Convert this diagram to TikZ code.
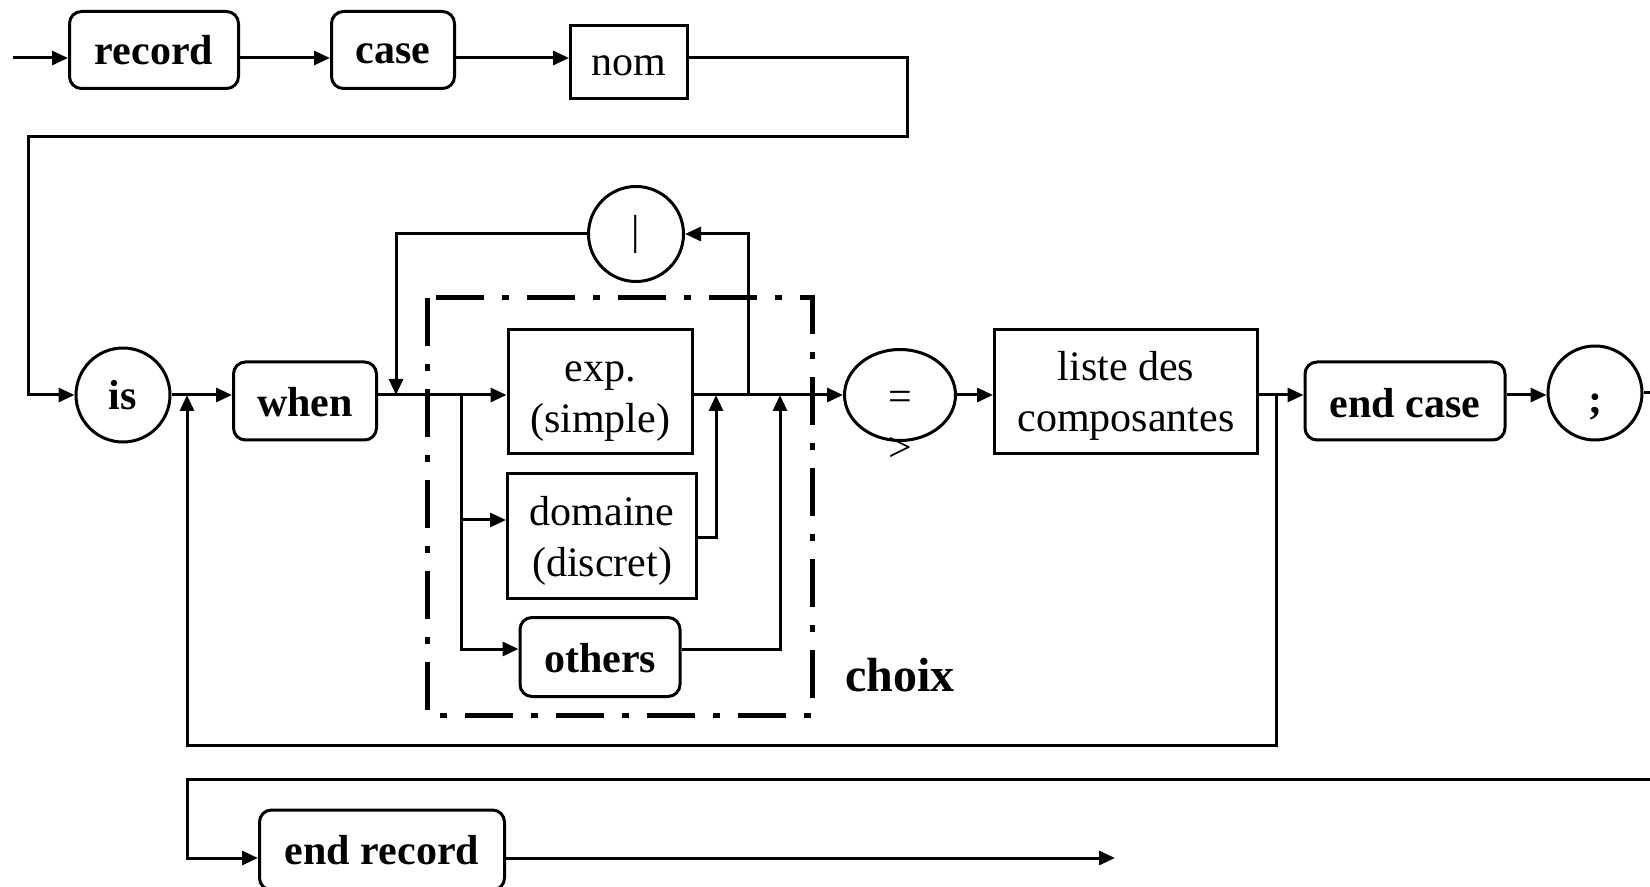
\documentclass[tikz,border=0pt]{standalone}
\usepackage{fontspec}
\setmainfont{Liberation Serif}
\usetikzlibrary{arrows.meta,shapes.geometric}
\newcommand{\lowtext}[2]{\raisebox{-#1}[\height][\depth]{\begin{tabular}{@{}c@{}}#2\end{tabular}}}
\newcommand{\lowone}[2]{\raisebox{-#1}[\height][\depth]{#2}}
\begin{document}
\begin{tikzpicture}[x=0.5pt,y=-0.5pt,
  every node/.style={font=\fontsize{21}{25.5}\selectfont},
  base/.style={draw,line width=1.5pt,inner sep=0pt,align=center},
  rbox/.style={base,rounded corners=6pt,font=\fontsize{21}{25.5}\selectfont\bfseries},
  sbox/.style={base},
  cbox/.style={base,circle},
  conn/.style={line width=1.5pt},
  arr/.style={conn,-{Triangle[length=8pt,width=7pt]}},
  dashdot/.style={line width=2.5pt,dash pattern=on 24pt off 9pt on 3.5pt off 9pt},
]
\useasboundingbox (0,0) rectangle (1650,887);

% nodes
\node[rbox,minimum width=84.5pt,minimum height=38.5pt] (record) at (154,50) {record};
\node[rbox,minimum width=61.5pt,minimum height=38.5pt] (case) at (393,50) {\lowone{2pt}{case}};
\node[sbox,minimum width=58.5pt,minimum height=36.5pt] (nom) at (629,62) {\lowone{2pt}{nom}};
\node[cbox,minimum size=47pt,font=\fontsize{21}{25.5}\selectfont\bfseries] (is) at (123,395) {is};
\node[rbox,minimum width=71.5pt,minimum height=39pt] (when) at (305,401) {\lowone{0.5pt}{when}};
\node[cbox,minimum size=47.5pt] (bar) at (636,234) {|};
\node[sbox,minimum width=92pt,minimum height=62pt] (exp) at (600,392) {\lowtext{2.5pt}{exp.\\(simple)}};
\node[sbox,minimum width=94.5pt,minimum height=62pt] (dom) at (602,536) {\lowtext{2.5pt}{domaine\\(discret)}};
\node[rbox,minimum width=80pt,minimum height=39.5pt] (others) at (600,657) {\lowone{0.5pt}{others}};
\node[base,ellipse,minimum width=55.5pt,minimum height=45.5pt] (eq) at (900,395) {\lowtext{2.5pt}{=}};
\node[inner sep=0pt] (gt) at (900,449) {>};
\node[sbox,minimum width=131.5pt,minimum height=62pt] (liste) at (1126,392) {\lowtext{2pt}{liste des\\composantes}};
\node[rbox,minimum width=100pt,minimum height=39pt] (endcase) at (1405,401) {\lowone{1pt}{end case}};
\node[cbox,minimum size=47pt,font=\fontsize{21}{25.5}\selectfont\bfseries] (semi) at (1595,393) {\lowtext{5pt}{;}};
\node[rbox,minimum width=122.5pt,minimum height=40pt] (endrec) at (382,850) {end record};
\node[font=\fontsize{24}{28}\selectfont\bfseries] (choix) at (900,675) {choix};

% choix frame
\draw[dashdot] (427,298) rectangle (812,715);

% coordinates
\coordinate (in) at (13,58);
\coordinate (m) at (0,395);
\coordinate (b1) at (461,395);

% connectors
\draw[arr] (in) -- (in -| record.west);
\draw[arr] (record.east |- in) -- (case.west |- in);
\draw[arr] (case.east |- in) -- (nom.west |- in);
\draw[arr] (nom.east |- in) -- (907,58) -- (907,137) -- (28,137) |- (is.west);
\draw[arr] (is.east) -- (when.west |- is.east);
\draw[arr] (when.east |- m) -- (exp.west |- m);
\draw[arr] (b1) |- (dom.west |- 0,520);
\draw[arr] (b1) |- (others.west |- 0,649);
\draw[arr] (bar.west) -| (396,395);
\draw[arr] (exp.east |- eq.west) -- (eq.west);
\draw[arr] (dom.east |- 0,538) -| (716,395);
\draw[arr] (others.east |- 0,649) -| (780,395);
\draw[arr] (748,395) |- (bar.east);
\draw[arr] (eq.east) -- (liste.west |- eq.east);
\draw[arr] (liste.east |- eq.east) -- (endcase.west |- eq.east);
\draw[arr] (endcase.east |- m) -- (semi.west |- m);
\draw[conn] (semi.east) -- (1650,393);
\draw[arr] (1276,395) -- (1276,745) -- (187,745) -- (187,395);
\draw[arr] (1650,779) -- (187,779) |- (endrec.west |- 0,858);
\draw[arr] (endrec.east |- 0,858) -- (1115,858);
\end{tikzpicture}
\end{document}
